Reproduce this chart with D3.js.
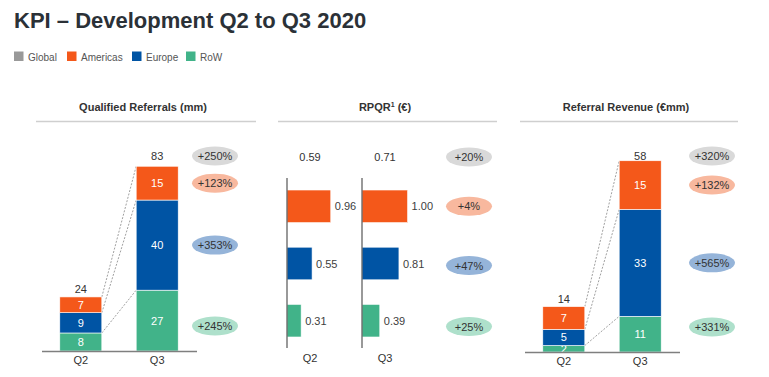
<!DOCTYPE html>
<html>
<head>
<meta charset="utf-8">
<script src="https://cdn.jsdelivr.net/npm/d3@7"></script>
<style>
  body { margin: 0; background: #fff; }
  svg text { font-family: "Liberation Sans", Arial, sans-serif; }
</style>
</head>
<body>
<svg id="chart" width="769" height="377"></svg>
<script>
// data
const regions = ["Americas", "Europe", "RoW"];
const quarters = ["Q2", "Q3"];

const referralsQ2 = [7, 9, 8];
const referralsQ3 = [15, 40, 27];
const referralsTotal = [24, 83];
const referralsChange = ["+250%", "+123%", "+353%", "+245%"];

const rpqrQ2 = [0.96, 0.55, 0.31];
const rpqrQ3 = [1.00, 0.81, 0.39];
const rpqrGlobal = [0.59, 0.71];
const rpqrChange = ["+20%", "+4%", "+47%", "+25%"];

const revenueQ2 = [7, 5, 2];
const revenueQ3 = [15, 33, 11];
const revenueTotal = [14, 58];
const revenueChange = ["+320%", "+132%", "+565%", "+331%"];

const legendItems = ["Global", "Americas", "Europe", "RoW"];

const colors = { Global: "#999999", Americas: "#f4581a", Europe: "#0054a4", RoW: "#41b389" };
const pillColors = { Global: "#d9d9d9", Americas: "#f8b89e", Europe: "#95b4d9", RoW: "#aee0cb" };

const svg = d3.select("#chart");

svg.append("text")
    .attr("x", 14).attr("y", 28)
    .attr("font-size", 22).attr("font-weight", "bold")
    .attr("fill", "#2b3137")
    .text("KPI – Development Q2 to Q3 2020");

// legend
const legendX = [14, 67, 132, 186];
const legend = svg.append("g");
legendItems.forEach((k, i) => {
    legend.append("rect")
        .attr("x", legendX[i]).attr("y", 51.5)
        .attr("width", 9.5).attr("height", 9.5)
        .attr("fill", colors[k]);
    legend.append("text")
        .attr("x", legendX[i] + 14).attr("y", 60.5)
        .attr("font-size", 10).attr("fill", "#555")
        .text(k);
});

function panelTitle(cx, x0, x1, label) {
    svg.append("text")
        .attr("x", cx).attr("y", 111)
        .attr("text-anchor", "middle")
        .attr("font-size", 11).attr("font-weight", "bold")
        .attr("fill", "#333")
        .text(label);
    svg.append("line")
        .attr("x1", x0).attr("x2", x1)
        .attr("y1", 121.5).attr("y2", 121.5)
        .attr("stroke", "#cfcfcf").attr("stroke-width", 1.5);
}

function pill(cx, cy, key, label) {
    svg.append("ellipse")
        .attr("cx", cx).attr("cy", cy)
        .attr("rx", 23).attr("ry", 9.5)
        .attr("fill", pillColors[key]);
    svg.append("text")
        .attr("x", cx).attr("y", cy + 4)
        .attr("text-anchor", "middle")
        .attr("font-size", 11).attr("fill", "#333")
        .text(label);
}

// stacked panel (referrals, revenue)
function stackedPanel(opt) {
    const g = svg.append("g");
    const x = d3.scaleBand()
        .domain(quarters)
        .range([opt.x0, opt.x0 + 152])
        .paddingInner(0.45)
        .paddingOuter(0.22);
    const y = d3.scaleLinear()
        .domain([0, opt.totals[1]])
        .range([opt.base, 164]);

    const rows = quarters.map((q, i) => {
        const vals = i === 0 ? opt.q2 : opt.q3;
        const r = { quarter: q };
        regions.forEach((k, j) => r[k] = vals[j]);
        return r;
    });
    // stack bottom-up: RoW, Europe, Americas
    const stack = d3.stack().keys(["RoW", "Europe", "Americas"])(rows);

    // dashed connectors between the two bars
    const bw = x.bandwidth();
    stack.forEach(s => {
        g.append("line")
            .attr("x1", x("Q2") + bw).attr("y1", y(s[0][1]))
            .attr("x2", x("Q3")).attr("y2", y(s[1][1]))
            .attr("stroke", "#777").attr("stroke-width", 0.7)
            .attr("stroke-dasharray", "2,1.5");
    });

    stack.forEach(s => {
        g.selectAll(null)
            .data(s)
            .join("rect")
            .attr("x", d => x(d.data.quarter))
            .attr("width", bw)
            .attr("y", d => y(d[1]))
            .attr("height", d => y(d[0]) - y(d[1]))
            .attr("fill", colors[s.key])
            .attr("stroke", "#fff").attr("stroke-width", 0.6);
        g.selectAll(null)
            .data(s)
            .join("text")
            .attr("x", d => x(d.data.quarter) + bw / 2)
            .attr("y", d => (y(d[0]) + y(d[1])) / 2 + 4)
            .attr("text-anchor", "middle")
            .attr("font-size", 11).attr("fill", "#fff")
            .text(d => d.data[s.key]);
    });

    quarters.forEach((q, i) => {
        g.append("text")
            .attr("x", x(q) + bw / 2).attr("y", y(opt.totals[i]) - 4)
            .attr("text-anchor", "middle")
            .attr("font-size", 11).attr("fill", "#333")
            .text(opt.totals[i]);
    });

    g.append("line")
        .attr("x1", opt.x0 - 1).attr("x2", opt.x0 + 154)
        .attr("y1", opt.base + 0.5).attr("y2", opt.base + 0.5)
        .attr("stroke", "#7f7f7f").attr("stroke-width", 1.5);

    g.append("g")
        .attr("transform", `translate(0,${opt.base})`)
        .call(d3.axisBottom(x).tickSize(0).tickPadding(5))
        .call(a => a.select(".domain").remove())
        .selectAll("text")
        .attr("font-size", 11).attr("fill", "#333")
        .attr("font-family", "Liberation Sans, Arial, sans-serif");

    // change pills
    const q3 = stack.map(s => s[1]);
    const mid = k => { const s = q3[["RoW", "Europe", "Americas"].indexOf(k)]; return (y(s[0]) + y(s[1])) / 2; };
    pill(opt.pillX, y(opt.totals[1]) - 8, "Global", opt.change[0]);
    pill(opt.pillX, mid("Americas"), "Americas", opt.change[1]);
    pill(opt.pillX, mid("Europe"), "Europe", opt.change[2]);
    pill(opt.pillX, opt.base - 25, "RoW", opt.change[3]);
}

panelTitle(143, 36, 256, "Qualified Referrals (mm)");
stackedPanel({ x0: 43, base: 351, q2: referralsQ2, q3: referralsQ3, totals: referralsTotal, change: referralsChange, pillX: 215 });

panelTitle(626, 520, 738, "Referral Revenue (€mm)");
stackedPanel({ x0: 526, base: 352, q2: revenueQ2, q3: revenueQ3, totals: revenueTotal, change: revenueChange, pillX: 712 });

// RPQR panel
panelTitle(385, 278, 497, "");
const rpqrTitle = svg.append("text")
    .attr("x", 385).attr("y", 111)
    .attr("text-anchor", "middle")
    .attr("font-size", 11).attr("font-weight", "bold")
    .attr("fill", "#333");
rpqrTitle.append("tspan").text("RPQR");
rpqrTitle.append("tspan").attr("font-size", 7).attr("dy", -4).text("1");
rpqrTitle.append("tspan").attr("dy", 4).text(" (€)");

const yr = d3.scaleBand()
    .domain(regions)
    .range([178, 349])
    .paddingInner(0.43)
    .paddingOuter(0.21);
const xr = d3.scaleLinear().domain([0, 1]).range([0, 45.6]);
const axisX = { Q2: 287, Q3: 362 };

quarters.forEach((q, qi) => {
    const vals = qi === 0 ? rpqrQ2 : rpqrQ3;
    const g = svg.append("g").attr("transform", `translate(${axisX[q]},0)`);
    g.selectAll("rect")
        .data(regions)
        .join("rect")
        .attr("x", 0)
        .attr("y", d => yr(d))
        .attr("width", (d, i) => xr(vals[i]))
        .attr("height", yr.bandwidth())
        .attr("fill", d => colors[d])
        .attr("stroke", "#fff").attr("stroke-width", 0.6);
    g.selectAll("text.val")
        .data(regions)
        .join("text")
        .attr("class", "val")
        .attr("x", (d, i) => xr(vals[i]) + 4)
        .attr("y", d => yr(d) + yr.bandwidth() / 2 + 4)
        .attr("font-size", 11).attr("fill", "#404040")
        .text((d, i) => vals[i].toFixed(2));
    g.append("line")
        .attr("x1", 0).attr("x2", 0)
        .attr("y1", 178).attr("y2", 348)
        .attr("stroke", "#555").attr("stroke-width", 1.2);
    g.append("text")
        .attr("x", 23).attr("y", 161)
        .attr("text-anchor", "middle")
        .attr("font-size", 11).attr("fill", "#333")
        .text(rpqrGlobal[qi].toFixed(2));
    g.append("text")
        .attr("x", 23).attr("y", 362)
        .attr("text-anchor", "middle")
        .attr("font-size", 11).attr("fill", "#333")
        .text(q);
});

pill(469, 157, "Global", rpqrChange[0]);
pill(469, yr("Americas") + yr.bandwidth() / 2, "Americas", rpqrChange[1]);
pill(469, yr("Europe") + yr.bandwidth() / 2 + 2, "Europe", rpqrChange[2]);
pill(469, 326.5, "RoW", rpqrChange[3]);
</script>
</body>
</html>
